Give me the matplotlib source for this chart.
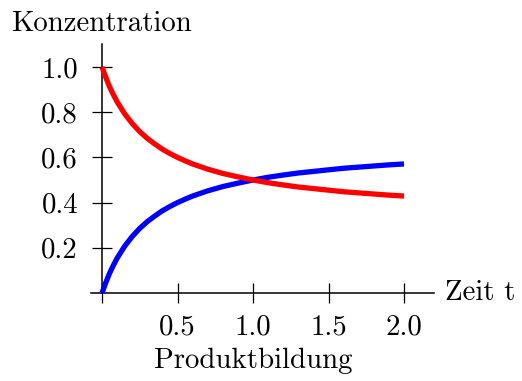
import matplotlib
matplotlib.use("Agg")
import matplotlib.pyplot as plt

# Data
t = [0.0, 0.025, 0.05, 0.075, 0.1, 0.15, 0.2, 0.25, 0.3, 0.35, 0.4, 0.45, 0.5,
     0.55, 0.6, 0.7, 0.8, 0.9, 1.0, 1.1, 1.2, 1.3, 1.4, 1.5, 1.6, 1.7, 1.8,
     1.9, 2.0]
educt = [1.0, 0.954, 0.913, 0.878, 0.846, 0.793, 0.75, 0.714, 0.684, 0.659,
         0.636, 0.617, 0.60, 0.585, 0.571, 0.548, 0.529, 0.514, 0.50, 0.488,
         0.478, 0.469, 0.462, 0.455, 0.448, 0.443, 0.438, 0.433, 0.429]
product = [0.0, 0.046, 0.087, 0.122, 0.154, 0.207, 0.25, 0.286, 0.316, 0.341,
           0.364, 0.383, 0.40, 0.415, 0.429, 0.452, 0.471, 0.486, 0.50, 0.512,
           0.522, 0.531, 0.538, 0.545, 0.552, 0.557, 0.562, 0.567, 0.571]
xticks = [0.0, 0.5, 1.0, 1.5, 2.0]
xticklabels = ["", "0.5", "1.0", "1.5", "2.0"]
yticks = [0.2, 0.4, 0.6, 0.8, 1.0]
yticklabels = ["0.2", "0.4", "0.6", "0.8", "1.0"]

plt.rcParams["font.family"] = ["cmr10", "DejaVu Serif"]
plt.rcParams["axes.unicode_minus"] = False
FS = 20.8

W, H = 522, 381
fig = plt.figure(figsize=(W / 100, H / 100), dpi=100)
x0, x1 = -0.07, 2.2
y0, y1 = 0.0, 1.1
px_t0, px_unit_x = 102, 151
py_0, py_unit = 293, 226
left = px_t0 + x0 * px_unit_x
right = px_t0 + x1 * px_unit_x
top = py_0 - y1 * py_unit
ax = fig.add_axes([left / W, (H - py_0) / H, (right - left) / W, (py_0 - top) / H])
ax.set_xlim(x0, x1)
ax.set_ylim(y0, y1)

ax.plot(t, product, color="#0000ff", lw=3.8, solid_capstyle="butt",
        solid_joinstyle="round", clip_on=False, zorder=3)
ax.plot(t, educt, color="#ff0000", lw=3.8, solid_capstyle="butt",
        solid_joinstyle="round", clip_on=False, zorder=4)

for s in ["top", "right"]:
    ax.spines[s].set_visible(False)
ax.spines["left"].set_position(("data", 0))
ax.spines["bottom"].set_position(("data", 0))
for s in ["left", "bottom"]:
    ax.spines[s].set_linewidth(1.1)

ax.set_xticks(xticks)
ax.set_xticklabels(xticklabels)
ax.set_yticks(yticks)
ax.set_yticklabels(yticklabels)
ax.tick_params(axis="both", direction="inout", length=14.4, width=0.9,
               labelsize=FS, color="black")
ax.tick_params(axis="x", pad=8)
ax.tick_params(axis="y", pad=10)

fig.text((px_t0 + 1.0 * px_unit_x) / W, 1 - 368 / H, "Produktbildung",
         fontsize=FS, ha="center", va="baseline")
fig.text(px_t0 / W, 1 - 31 / H, "Konzentration", fontsize=FS, ha="center", va="baseline")
fig.text(445 / W, 1 - py_0 / H, "Zeit t", fontsize=FS, ha="left", va="center")

fig.savefig("out.png", dpi=100)
